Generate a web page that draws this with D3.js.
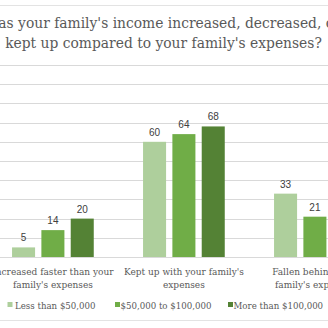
<!DOCTYPE html>
<html><head><meta charset="utf-8">
<script src="https://cdn.jsdelivr.net/npm/d3@7"></script>
<style>html,body{margin:0;padding:0;background:#fff;overflow:hidden}</style>
</head><body>
<svg id="c" width="328" height="328"></svg>
<script>
const titleLines = ["Has your family's income increased, decreased, or", "kept up compared to your family's expenses?"];
const categories = [
  ["Increased faster than your", "family's expenses"],
  ["Kept up with your family's", "expenses"],
  ["Fallen behind your", "family's expenses"]
];
const seriesNames = ["Less than $50,000", "$50,000 to $100,000", "More than $100,000"];
const lessThan50k = [5, 60, 33];
const from50kTo100k = [14, 64, 21];
const moreThan100k = [20, 68, 12];
const yTicks = [0,10,20,30,40,50,60,70,80,90,100];
const colors = ["#aecf9c", "#70ad47", "#548235"];

const seriesValues = [lessThan50k, from50kTo100k, moreThan100k];
const svg = d3.select("#c");
const serif = "'DejaVu Serif', serif";
const sans = "'Liberation Sans', Arial, sans-serif";

// frame lines
svg.append("line").attr("x1",0).attr("x2",328).attr("y1",5.5).attr("y2",5.5).attr("stroke","#e3e3e3");
svg.append("line").attr("x1",0).attr("x2",328).attr("y1",320.5).attr("y2",320.5).attr("stroke","#e3e3e3");

const y = d3.scaleLinear().domain([0,100]).range([257,65]);
const x0 = d3.scaleBand().domain(categories.map((d,i)=>i)).range([-12.6, 380.4]).padding(0);
const x1 = d3.scaleBand().domain(seriesNames).range([0, x0.bandwidth()]).paddingInner(0.215).paddingOuter(0.84);

// gridlines
svg.append("g").selectAll("line").data(yTicks.slice(1)).join("line")
  .attr("x1",0).attr("x2",328)
  .attr("y1",d=>Math.round(y(d))+0.5).attr("y2",d=>Math.round(y(d))+0.5)
  .attr("stroke","#d9d9d9").attr("stroke-width",1);

// bars
const g = svg.append("g");
categories.forEach((c,ci)=>{
  seriesNames.forEach((s,si)=>{
    const v = seriesValues[si][ci];
    const bx = x0(ci) + x1(s);
    g.append("rect").attr("x",bx).attr("y",y(v)).attr("width",x1.bandwidth()).attr("height",y(0)-y(v)).attr("fill",colors[si]);
    g.append("text").attr("x",bx + x1.bandwidth()/2).attr("y",y(v)-6)
      .attr("text-anchor","middle").attr("font-family",sans).attr("font-size",10)
      .attr("fill","#404040").text(v);
  });
});

// baseline
svg.append("line").attr("x1",0).attr("x2",328).attr("y1",257.5).attr("y2",257.5).attr("stroke","#d9d9d9");

function fitText(sel, target){
  const w = sel.node().getComputedTextLength();
  const fs = parseFloat(sel.attr("font-size"));
  sel.attr("font-size", fs*target/w);
}

// title
const t1 = svg.append("text").attr("x",163.5).attr("y",28).attr("text-anchor","middle")
  .attr("font-family",serif).attr("font-size",16).attr("fill","#595959").text(titleLines[0]);
const t2 = svg.append("text").attr("x",163.5).attr("y",48).attr("text-anchor","middle")
  .attr("font-family",serif).attr("font-size",16).attr("fill","#595959").text(titleLines[1]);
fitText(t2, 317);
t1.attr("font-size", t2.attr("font-size"));

// category labels
let catSize = null;
categories.forEach((c,ci)=>{
  const cx = x0(ci) + x0.bandwidth()/2;
  c.forEach((line,li)=>{
    const t = svg.append("text").attr("x",cx).attr("y",275+li*13).attr("text-anchor","middle")
      .attr("font-family",serif).attr("font-size",12).attr("fill","#595959").attr("class","cat").text(line);
  });
});
const ref = svg.selectAll("text.cat").filter(function(){return this.textContent===categories[1][0];});
fitText(ref, 120);
svg.selectAll("text.cat").attr("font-size", ref.attr("font-size"));

// legend
const legX = [7.5, 115, 228];
const legTextX = [15, 120.5, 233.5];
seriesNames.forEach((s,i)=>{
  svg.append("rect").attr("x",legX[i]).attr("y",302).attr("width",5).attr("height",5).attr("fill",colors[i]);
  const t = svg.append("text").attr("x",legTextX[i]).attr("y",308.5).attr("font-family",serif)
    .attr("font-size",12).attr("fill","#595959").attr("class","leg").text(s);
});
const lref = svg.selectAll("text.leg").filter(function(){return this.textContent===seriesNames[0];});
fitText(lref, 80.7);
svg.selectAll("text.leg").attr("font-size", lref.attr("font-size"));
</script>
</body></html>
